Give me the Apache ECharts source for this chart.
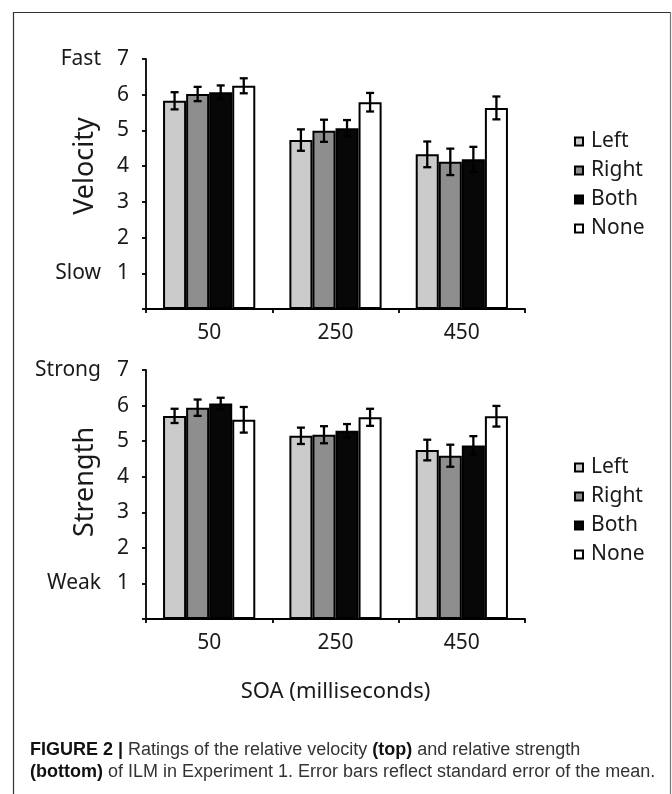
<!DOCTYPE html>
<html>
<head>
<meta charset="utf-8">
<script src="https://cdn.jsdelivr.net/npm/echarts@6/dist/echarts.min.js"></script>
<style>
  html, body { margin: 0; padding: 0; background: #fff; }
  #main { width: 672px; height: 794px; }
</style>
</head>
<body>
<div id="main"></div>
<script>
var categories = ['50', '250', '450'];
var groups = ['Left', 'Right', 'Both', 'None'];
var barColors = ['#cbcbcb', '#8e8e8e', '#070707', '#ffffff'];

// velocity (top)
var velLeft = [5.83, 4.73, 4.33];
var velRight = [6.02, 4.99, 4.12];
var velBoth = [6.07, 5.06, 4.19];
var velNone = [6.25, 5.79, 5.63];
var velLeftErr = [0.24, 0.30, 0.36];
var velRightErr = [0.20, 0.31, 0.37];
var velBothErr = [0.19, 0.23, 0.35];
var velNoneErr = [0.21, 0.26, 0.32];

// strength (bottom)
var strLeft = [5.71, 5.15, 4.75];
var strRight = [5.94, 5.18, 4.59];
var strBoth = [6.06, 5.29, 4.88];
var strNone = [5.60, 5.67, 5.70];
var strLeftErr = [0.20, 0.23, 0.29];
var strRightErr = [0.23, 0.24, 0.31];
var strBothErr = [0.16, 0.19, 0.26];
var strNoneErr = [0.36, 0.24, 0.29];

var topWords = { 7: 'Fast', 1: 'Slow' };
var bottomWords = { 7: 'Strong', 1: 'Weak' };

var FONT = '"Noto Sans", sans-serif';
var CAP_FONT = '"Liberation Sans", Arial, sans-serif';
var GAP = 0.27;

function drawFigure() {
  var dom = document.getElementById('main');
  var myChart = echarts.init(dom);

  var velVals = [velLeft, velRight, velBoth, velNone];
  var velErrs = [velLeftErr, velRightErr, velBothErr, velNoneErr];
  var strVals = [strLeft, strRight, strBoth, strNone];
  var strErrs = [strLeftErr, strRightErr, strBothErr, strNoneErr];

  function barSeries(name, vals, k, g) {
    return {
      name: name,
      type: 'bar',
      xAxisIndex: g,
      yAxisIndex: g * 2,
      data: vals,
      barGap: '0%',
      barCategoryGap: (GAP * 100) + '%',
      itemStyle: { color: barColors[k], borderColor: '#000', borderWidth: 2 },
      silent: true,
      z: 2
    };
  }

  function errSeries(vals, errs, k, g) {
    return {
      name: 'err' + g + k,
      type: 'custom',
      xAxisIndex: g,
      yAxisIndex: g * 2,
      z: 5,
      silent: true,
      data: categories.map(function (c, i) { return [i, vals[i], errs[i]]; }),
      renderItem: function (params, api) {
        var ci = api.value(0), v = api.value(1), e = api.value(2);
        var cw = api.size([1, 0])[0];
        var gw = cw * (1 - GAP), bw = gw / 4;
        var x = api.coord([ci, v])[0] - gw / 2 + bw * (k + 0.5);
        var hi = api.coord([ci, v + e])[1];
        var lo = api.coord([ci, v - e])[1];
        var st = { stroke: '#000', lineWidth: 2.3 };
        return {
          type: 'group',
          children: [
            { type: 'line', shape: { x1: x, y1: hi, x2: x, y2: lo }, style: st },
            { type: 'line', shape: { x1: x - 4, y1: hi, x2: x + 4, y2: hi }, style: st },
            { type: 'line', shape: { x1: x - 4, y1: lo, x2: x + 4, y2: lo }, style: st }
          ]
        };
      }
    };
  }

  function xAx(g, withName) {
    var ax = {
      type: 'category',
      gridIndex: g,
      data: categories,
      axisLine: { lineStyle: { color: '#000', width: 1.8 } },
      axisTick: { show: true, length: 4, lineStyle: { color: '#000', width: 1.8 } },
      axisLabel: { margin: 14, fontSize: 21, color: '#1a1a1a', fontFamily: FONT }
    };
    if (withName) {
      ax.name = 'SOA (milliseconds)';
      ax.nameLocation = 'middle';
      ax.nameGap = 62;
      ax.nameTextStyle = { fontSize: 22, color: '#1a1a1a', fontFamily: FONT };
    }
    return ax;
  }

  function yNum(g) {
    return {
      type: 'value',
      gridIndex: g,
      min: 0, max: 7, interval: 1,
      axisLine: { show: true, lineStyle: { color: '#000', width: 1.8 } },
      axisTick: { show: true, length: 4, lineStyle: { color: '#000', width: 1.8 } },
      splitLine: { show: false },
      axisLabel: {
        margin: 17, fontSize: 21, color: '#1a1a1a', fontFamily: FONT,
        formatter: function (v) { return v === 0 ? '' : String(v); }
      }
    };
  }

  function yWords(g, words) {
    return {
      type: 'value',
      gridIndex: g,
      position: 'left',
      min: 0, max: 7, interval: 1,
      axisLine: { show: false },
      axisTick: { show: false },
      splitLine: { show: false },
      axisLabel: {
        margin: 45, fontSize: 21, color: '#1a1a1a', fontFamily: FONT,
        formatter: function (v) { return words[v] || ''; }
      }
    };
  }

  function legendAt(top) {
    return {
      data: groups,
      orient: 'vertical',
      left: 569,
      top: top,
      itemGap: 8,
      itemWidth: 8,
      itemHeight: 8,
      icon: 'rect',
      selectedMode: false,
      itemStyle: { borderColor: '#000', borderWidth: 2 },
      textStyle: { fontSize: 21, color: '#1a1a1a', fontFamily: FONT, padding: [0, 0, 0, 3] }
    };
  }

  var series = [];
  groups.forEach(function (name, k) {
    series.push(barSeries(name, velVals[k], k, 0));
    series.push(barSeries(name, strVals[k], k, 1));
  });
  groups.forEach(function (name, k) {
    series.push(errSeries(velVals[k], velErrs[k], k, 0));
    series.push(errSeries(strVals[k], strErrs[k], k, 1));
  });

  var option = {
    animation: false,
    backgroundColor: '#fff',
    grid: [
      { left: 146, top: 59, width: 379, height: 250 },
      { left: 146, top: 370, width: 379, height: 249 }
    ],
    xAxis: [xAx(0, false), xAx(1, true)],
    yAxis: [yNum(0), yWords(0, topWords), yNum(1), yWords(1, bottomWords)],
    legend: [legendAt(126), legendAt(452)],
    series: series,
    graphic: [
      { type: 'line', shape: { x1: 13, y1: 12.5, x2: 671, y2: 12.5 }, style: { stroke: '#333', lineWidth: 1.2 } },
      { type: 'line', shape: { x1: 13.5, y1: 12, x2: 13.5, y2: 794 }, style: { stroke: '#333', lineWidth: 1.2 } },
      { type: 'line', shape: { x1: 670.5, y1: 12, x2: 670.5, y2: 794 }, style: { stroke: '#777', lineWidth: 1.2 } },
      {
        type: 'text', x: 85, y: 166, rotation: Math.PI / 2,
        style: { text: 'Velocity', fontSize: 27, fill: '#1a1a1a', fontFamily: FONT, align: 'center', verticalAlign: 'middle' }
      },
      {
        type: 'text', x: 85, y: 482, rotation: Math.PI / 2,
        style: { text: 'Strength', fontSize: 27, fill: '#1a1a1a', fontFamily: FONT, align: 'center', verticalAlign: 'middle' }
      },
      {
        type: 'text', x: 30, y: 750,
        style: {
          text: '{b|FIGURE 2 |} Ratings of the relative velocity {b|(top)} and relative strength',
          fontSize: 18, fill: '#333', fontFamily: CAP_FONT,
          verticalAlign: 'middle',
          rich: { b: { fontWeight: 'bold', fill: '#111', fontSize: 18, fontFamily: CAP_FONT } }
        }
      },
      {
        type: 'text', x: 30, y: 772,
        style: {
          text: '{b|(bottom)} of ILM in Experiment 1. Error bars reflect standard error of the mean.',
          fontSize: 18, fill: '#333', fontFamily: CAP_FONT,
          verticalAlign: 'middle',
          rich: { b: { fontWeight: 'bold', fill: '#111', fontSize: 18, fontFamily: CAP_FONT } }
        }
      }
    ]
  };

  if (option && typeof option === 'object') {
    myChart.setOption(option, true);
  }
}

drawFigure();
</script>
</body>
</html>
